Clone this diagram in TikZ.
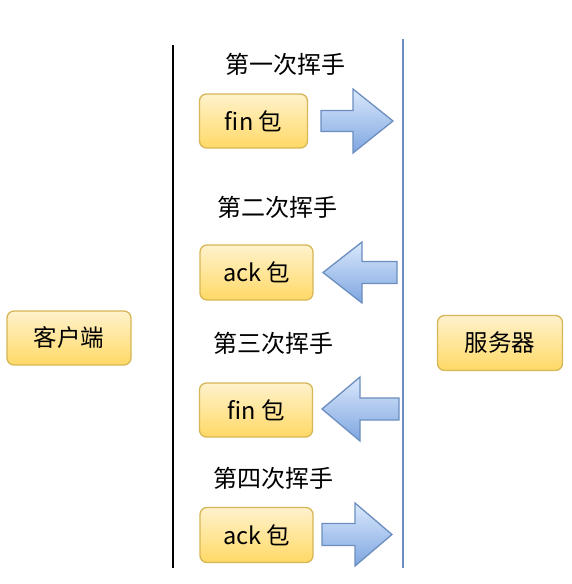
\documentclass[tikz,border=0pt]{standalone}
\usepackage{fontspec}
\setmainfont{Noto Sans CJK SC}
\definecolor{ytop}{HTML}{FFF2CC}
\definecolor{ybot}{HTML}{FFD966}
\definecolor{yline}{HTML}{D6B656}
\definecolor{btop}{HTML}{DAE8FC}
\definecolor{bbot}{HTML}{7EA6E0}
\definecolor{bline}{HTML}{6C8EBF}
\tikzset{
  pkt/.style={rectangle, rounded corners=7pt, top color=ytop, bottom color=ybot,
    draw=yline, line width=1.3pt, inner sep=0pt, font=\fontsize{23.5}{28}\selectfont},
  ttl/.style={inner sep=0pt, font=\fontsize{24}{28}\selectfont},
  bigarrow/.style={top color=btop, bottom color=bbot, draw=bline, line width=1.3pt, line join=miter},
}
\begin{document}
\begin{tikzpicture}[x=1pt,y=-1pt]
\useasboundingbox (0,0) rectangle (572,584);
% lifelines
\coordinate (ct) at (173,45);
\coordinate (cb) at (173,568);
\coordinate (st) at (403,39);
\coordinate (sb) at (403,568);
\draw[line width=1.6pt, black] (ct) -- (cb);
\draw[line width=1.6pt, bline] (st) -- (sb);
% end boxes
\node[pkt, minimum width=124pt, minimum height=54pt] (client) at (69,338) {客户端};
\node[pkt, minimum width=125pt, minimum height=55pt] (server) at (500,343) {服务器};
% titles
\node[ttl] (t1) at (285,64) {第一次挥手};
\node[ttl] (t2) at (277,207) {第二次挥手};
\node[ttl] (t3) at (273.5,343.5) {第三次挥手};
\node[ttl] (t4) at (273.5,478.5) {第四次挥手};
% packets
\node[pkt, minimum width=108pt, minimum height=54pt] (p1) at (253.5,121) {fin 包};
\node[pkt, minimum width=113pt, minimum height=55pt] (p2) at (256.5,272.5) {ack 包};
\node[pkt, minimum width=113pt, minimum height=54pt] (p3) at (256,410) {fin 包};
\node[pkt, minimum width=113pt, minimum height=55pt] (p4) at (256.5,535) {ack 包};
% arrows
\shade[bigarrow] (321,110.5) -- (353,110.5) -- (353,89) -- (393,121) -- (353,153) -- (353,131.5) -- (321,131.5) -- cycle;
\shade[bigarrow] (397,261.5) -- (362,261.5) -- (362,242) -- (323,272.5) -- (362,303) -- (362,283.5) -- (397,283.5) -- cycle;
\shade[bigarrow] (399,398) -- (360,398) -- (360,377) -- (322,409) -- (360,441) -- (360,420) -- (399,420) -- cycle;
\shade[bigarrow] (322,523.5) -- (355,523.5) -- (355,503) -- (392,534.5) -- (355,566) -- (355,545.5) -- (322,545.5) -- cycle;
\end{tikzpicture}
\end{document}
